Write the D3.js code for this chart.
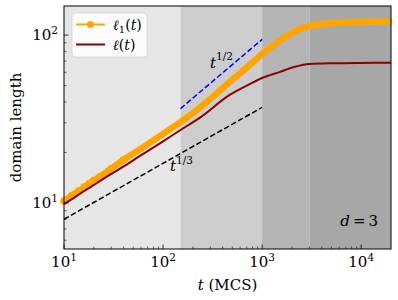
<!DOCTYPE html>
<html>
<head>
<meta charset="utf-8">
<script src="https://cdn.jsdelivr.net/npm/d3@7"></script>
<style>
  body { margin: 0; background: #fff; }
  text { font-family: "DejaVu Serif", serif; fill: #000; }
</style>
</head>
<body>
<div id="chart"></div>
<script>
// time (MCS) and the two domain length curves
var times = [10, 12, 14, 16, 18, 20, 23, 30, 40, 58, 100, 150, 234, 470, 750, 1000, 1500, 2100, 3000, 5100, 9600, 20000]
var ell1 = [10.28, 11.06, 11.77, 12.43, 13.05, 13.6, 14.34, 16.0, 18.1, 20.8, 25.8, 30.3, 36.8, 52.5, 66.3, 77.1, 92.1, 104.6, 113.1, 117.9, 119.5, 120.3]
var ell = [9.86, 10.55, 11.2, 11.8, 12.3, 12.8, 13.5, 14.9, 16.5, 19.0, 23.3, 27.2, 32.1, 44.0, 51.1, 55.5, 60.2, 64.5, 67.2, 68.0, 68.3, 68.4]

// guide power laws
var guideThirdT = [10, 1000]
var guideThirdV = [8.0, 37.1]
var guideHalfT = [150, 1000]
var guideHalfV = [36.5, 94.3]

// shaded regimes
var regionEdges = [10, 150, 1000, 3000, 20000]
var regionColors = ["#e6e6e6", "#cdcdcd", "#b4b4b4", "#a7a7a7"]

var xTicks = [10, 100, 1000, 10000]
var xTickExp = ["1", "2", "3", "4"]
var yTicks = [10, 100]
var yTickExp = ["1", "2"]

var width = 398, height = 300
var margin = {left: 64, right: 7, top: 6, bottom: 51}

var svg = d3.select("#chart").append("svg")
	.attr("width", width)
	.attr("height", height)

var x = d3.scaleLog().domain([10, 20000]).range([margin.left, width - margin.right])
var y = d3.scaleLog().domain([5.32, 149]).range([height - margin.bottom, margin.top])

// background bands
var bands = d3.range(regionColors.length)
svg.selectAll("rect.band")
	.data(bands)
	.enter()
	.append("rect")
	.attr("class", "band")
	.attr("x", function(i){ return x(regionEdges[i]) })
	.attr("width", function(i){ return x(regionEdges[i+1]) - x(regionEdges[i]) })
	.attr("y", margin.top)
	.attr("height", height - margin.bottom - margin.top)
	.attr("fill", function(i){ return regionColors[i] })

var line = d3.line()
	.x(function(d){ return x(d[0]) })
	.y(function(d){ return y(d[1]) })

// guide lines
svg.append("path")
	.datum(d3.zip(guideThirdT, guideThirdV))
	.attr("d", line)
	.attr("fill", "none")
	.attr("stroke", "#000")
	.attr("stroke-width", 1.5)
	.attr("stroke-dasharray", "5.5,2.5")

svg.append("path")
	.datum(d3.zip(guideHalfT, guideHalfV))
	.attr("d", line)
	.attr("fill", "none")
	.attr("stroke", "#0000ff")
	.attr("stroke-width", 1.5)
	.attr("stroke-dasharray", "5.5,2.5")

var smooth = d3.line()
	.x(function(d){ return x(d[0]) })
	.y(function(d){ return y(d[1]) })
	.curve(d3.curveMonotoneX)

// l1(t) orange, thick band of markers
svg.append("path")
	.datum(d3.zip(times, ell1))
	.attr("d", smooth)
	.attr("fill", "none")
	.attr("stroke", "#ffa500")
	.attr("stroke-width", 6.5)
	.attr("stroke-linecap", "round")

svg.selectAll("circle.m")
	.data(d3.zip(times, ell1).filter(function(d){ return d[0] <= 40 }))
	.enter()
	.append("circle")
	.attr("class", "m")
	.attr("cx", function(d){ return x(d[0]) })
	.attr("cy", function(d){ return y(d[1]) })
	.attr("r", 3.8)
	.attr("fill", "#ffa500")

// l(t) dark red
svg.append("path")
	.datum(d3.zip(times, ell))
	.attr("d", smooth)
	.attr("fill", "none")
	.attr("stroke", "#8b0000")
	.attr("stroke-width", 2)

// clip overflow at the right edge
svg.append("rect")
	.attr("x", width - margin.right + 0.5)
	.attr("y", 0)
	.attr("width", margin.right)
	.attr("height", height)
	.attr("fill", "#fff")

// frame
svg.append("rect")
	.attr("x", margin.left)
	.attr("y", margin.top)
	.attr("width", width - margin.left - margin.right)
	.attr("height", height - margin.top - margin.bottom)
	.attr("fill", "none")
	.attr("stroke", "#000")
	.attr("stroke-width", 1)

// ticks (inward)
var xMinor = []
var yMinor = []
;[10, 100, 1000, 10000].forEach(function(dec){
	for (var k = 2; k <= 9; k++) { if (dec * k < 20000) xMinor.push(dec * k) }
})
;[1, 10, 100].forEach(function(dec){
	for (var k = 2; k <= 9; k++) { var v = dec * k; if (v > 5.32 && v < 149) yMinor.push(v) }
})

var yb = height - margin.bottom
svg.selectAll("line.xmaj").data(xTicks).enter().append("line")
	.attr("x1", function(d){ return x(d) }).attr("x2", function(d){ return x(d) })
	.attr("y1", yb).attr("y2", yb - 4.5)
	.attr("stroke", "#000").attr("stroke-width", 0.8)
svg.selectAll("line.xmin").data(xMinor).enter().append("line")
	.attr("x1", function(d){ return x(d) }).attr("x2", function(d){ return x(d) })
	.attr("y1", yb).attr("y2", yb - 2.5)
	.attr("stroke", "#000").attr("stroke-width", 0.6)
svg.selectAll("line.ymaj").data(yTicks).enter().append("line")
	.attr("y1", function(d){ return y(d) }).attr("y2", function(d){ return y(d) })
	.attr("x1", margin.left).attr("x2", margin.left + 4.5)
	.attr("stroke", "#000").attr("stroke-width", 0.8)
svg.selectAll("line.ymin").data(yMinor).enter().append("line")
	.attr("y1", function(d){ return y(d) }).attr("y2", function(d){ return y(d) })
	.attr("x1", margin.left).attr("x2", margin.left + 2.5)
	.attr("stroke", "#000").attr("stroke-width", 0.6)

// tick labels
xTicks.forEach(function(t, i){
	var tx = svg.append("text")
		.attr("x", x(t))
		.attr("y", yb + 18)
		.attr("text-anchor", "middle")
		.style("font-size", "15px")
	tx.append("tspan").text("10")
	tx.append("tspan").attr("dy", -6).style("font-size", "10.5px").text(xTickExp[i])
})
yTicks.forEach(function(t, i){
	var tx = svg.append("text")
		.attr("x", margin.left - 6)
		.attr("y", y(t) + 5)
		.attr("text-anchor", "end")
		.style("font-size", "15px")
	tx.append("tspan").text("10")
	tx.append("tspan").attr("dy", -6).style("font-size", "10.5px").text(yTickExp[i])
})

// axis labels
var xl = svg.append("text")
	.attr("x", (margin.left + width - margin.right) / 2)
	.attr("y", 290)
	.attr("text-anchor", "middle")
	.style("font-size", "15px")
xl.append("tspan").style("font-style", "italic").text("t")
xl.append("tspan").text(" (MCS)")

svg.append("text")
	.attr("transform", "translate(21," + ((margin.top + height - margin.bottom) / 2) + ") rotate(-90)")
	.attr("text-anchor", "middle")
	.style("font-size", "15px")
	.text("domain length")

// power law labels
var lh = svg.append("text").attr("x", 210).attr("y", 68).style("font-size", "15px")
lh.append("tspan").style("font-style", "italic").text("t")
lh.append("tspan").attr("dy", -8).style("font-size", "10.5px").text("1/2")

var lt = svg.append("text").attr("x", 170).attr("y", 171).style("font-size", "15px")
lt.append("tspan").style("font-style", "italic").text("t")
lt.append("tspan").attr("dy", -7).style("font-size", "10.5px").text("1/3")

var dl = svg.append("text").attr("x", 378).attr("y", 226).attr("text-anchor", "end").style("font-size", "15px")
dl.append("tspan").style("font-style", "italic").text("d")
dl.append("tspan").text("\u2009=\u20093")

// legend
var lg = svg.append("g").attr("transform", "translate(72,13)")
lg.append("rect")
	.attr("width", 75).attr("height", 44).attr("rx", 3)
	.attr("fill", "#fff").attr("fill-opacity", 0.85)
	.attr("stroke", "#d0d0d0").attr("stroke-width", 0.8)
lg.append("line").attr("x1", 4).attr("x2", 33).attr("y1", 11.5).attr("y2", 11.5)
	.attr("stroke", "#ffa500").attr("stroke-width", 2)
lg.append("circle").attr("cx", 18.5).attr("cy", 11.5).attr("r", 3.5).attr("fill", "#ffa500")
lg.append("line").attr("x1", 4).attr("x2", 33).attr("y1", 31.5).attr("y2", 31.5)
	.attr("stroke", "#8b0000").attr("stroke-width", 2)
var e1 = lg.append("text").attr("x", 41).attr("y", 16.5).style("font-size", "14px")
e1.append("tspan").style("font-style", "italic").text("\u2113")
e1.append("tspan").attr("dy", 3).style("font-size", "10px").text("1")
e1.append("tspan").attr("dy", -3).text("(")
e1.append("tspan").style("font-style", "italic").text("t")
e1.append("tspan").text(")")
var e2 = lg.append("text").attr("x", 41).attr("y", 36.5).style("font-size", "14px")
e2.append("tspan").style("font-style", "italic").text("\u2113")
e2.append("tspan").text("(")
e2.append("tspan").style("font-style", "italic").text("t")
e2.append("tspan").text(")")
</script>
</body>
</html>
